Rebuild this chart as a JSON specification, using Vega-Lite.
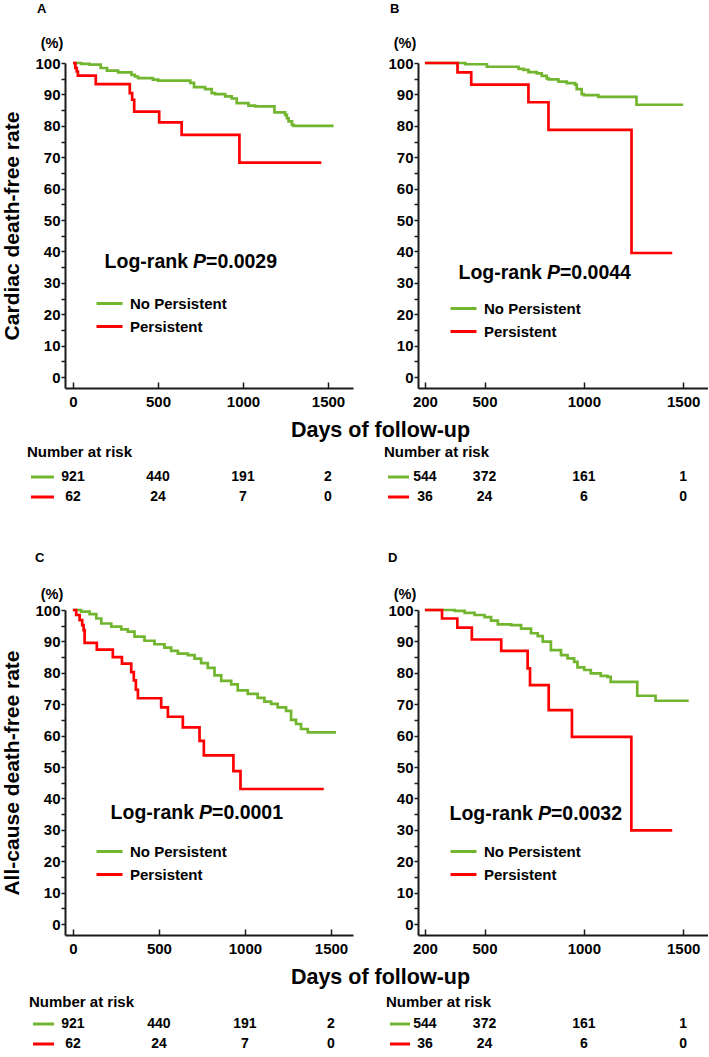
{
  "$schema": "https://vega.github.io/schema/vega-lite/v6.json",
  "padding": {"left": 1, "top": 3, "right": 0, "bottom": 0},
  "autosize": {"type": "pad"},
  "config": {
    "view": {"stroke": null},
    "font": "Liberation Sans",
    "axis": {"grid": false, "domainColor": "#1a1a1a", "domainWidth": 2, "tickColor": "#1a1a1a", "tickWidth": 1.5, "labelFont": "Liberation Sans", "labelFontSize": 15, "labelFontWeight": "bold", "labelColor": "#000", "labelOverlap": false, "labelFlush": false, "titleFont": "Liberation Sans", "titleColor": "#000", "titleFontWeight": "bold"},
    "legend": {"labelFont": "Liberation Sans", "labelFontSize": 15, "labelFontWeight": "bold", "labelColor": "#000", "symbolType": "stroke", "symbolSize": 676, "symbolStrokeWidth": 3, "labelOffset": 6, "padding": 0, "rowPadding": 0},
    "title": {"font": "Liberation Sans", "fontWeight": "bold", "color": "#000"},
    "text": {"font": "Liberation Sans", "fontWeight": "bold", "color": "#000"}
  },
  "datasets": {
    "kmA": [
      {"group": "No Persistent", "day": 0, "surv": 100}, {"group": "No Persistent", "day": 49, "surv": 99.7}, {"group": "No Persistent", "day": 98, "surv": 99.5}, {"group": "No Persistent", "day": 163, "surv": 98.4}, {"group": "No Persistent", "day": 200, "surv": 97.6}, {"group": "No Persistent", "day": 265, "surv": 97.0}, {"group": "No Persistent", "day": 344, "surv": 96.2}, {"group": "No Persistent", "day": 364, "surv": 95.7}, {"group": "No Persistent", "day": 383, "surv": 95.2}, {"group": "No Persistent", "day": 470, "surv": 94.7}, {"group": "No Persistent", "day": 501, "surv": 94.4}, {"group": "No Persistent", "day": 690, "surv": 93.7}, {"group": "No Persistent", "day": 712, "surv": 92.3}, {"group": "No Persistent", "day": 777, "surv": 91.7}, {"group": "No Persistent", "day": 816, "surv": 90.4}, {"group": "No Persistent", "day": 836, "surv": 90.1}, {"group": "No Persistent", "day": 895, "surv": 89.4}, {"group": "No Persistent", "day": 934, "surv": 88.7}, {"group": "No Persistent", "day": 963, "surv": 87.2}, {"group": "No Persistent", "day": 1032, "surv": 86.4}, {"group": "No Persistent", "day": 1071, "surv": 86.2}, {"group": "No Persistent", "day": 1185, "surv": 84.3}, {"group": "No Persistent", "day": 1248, "surv": 83.5}, {"group": "No Persistent", "day": 1258, "surv": 82.4}, {"group": "No Persistent", "day": 1268, "surv": 81.4}, {"group": "No Persistent", "day": 1288, "surv": 80.3}, {"group": "No Persistent", "day": 1298, "surv": 80.0}, {"group": "No Persistent", "day": 1533, "surv": 80.0},
      {"group": "Persistent", "day": 0, "surv": 100}, {"group": "Persistent", "day": 14, "surv": 98.4}, {"group": "Persistent", "day": 22, "surv": 97.3}, {"group": "Persistent", "day": 29, "surv": 96.0}, {"group": "Persistent", "day": 134, "surv": 93.3}, {"group": "Persistent", "day": 334, "surv": 90.4}, {"group": "Persistent", "day": 348, "surv": 88.3}, {"group": "Persistent", "day": 360, "surv": 84.5}, {"group": "Persistent", "day": 507, "surv": 81.1}, {"group": "Persistent", "day": 639, "surv": 77.1}, {"group": "Persistent", "day": 979, "surv": 68.3}, {"group": "Persistent", "day": 1461, "surv": 68.3}
    ],
    "kmB": [
      {"group": "No Persistent", "day": 200, "surv": 100}, {"group": "No Persistent", "day": 403, "surv": 99.6}, {"group": "No Persistent", "day": 512, "surv": 98.8}, {"group": "No Persistent", "day": 671, "surv": 98.1}, {"group": "No Persistent", "day": 696, "surv": 97.8}, {"group": "No Persistent", "day": 721, "surv": 97.1}, {"group": "No Persistent", "day": 763, "surv": 96.7}, {"group": "No Persistent", "day": 788, "surv": 95.9}, {"group": "No Persistent", "day": 813, "surv": 95.1}, {"group": "No Persistent", "day": 822, "surv": 94.8}, {"group": "No Persistent", "day": 872, "surv": 94.1}, {"group": "No Persistent", "day": 914, "surv": 93.6}, {"group": "No Persistent", "day": 956, "surv": 93.1}, {"group": "No Persistent", "day": 964, "surv": 91.7}, {"group": "No Persistent", "day": 989, "surv": 90.1}, {"group": "No Persistent", "day": 1000, "surv": 89.8}, {"group": "No Persistent", "day": 1073, "surv": 89.2}, {"group": "No Persistent", "day": 1265, "surv": 86.7}, {"group": "No Persistent", "day": 1500, "surv": 86.7},
      {"group": "Persistent", "day": 200, "surv": 100}, {"group": "Persistent", "day": 364, "surv": 97.0}, {"group": "Persistent", "day": 433, "surv": 93.1}, {"group": "Persistent", "day": 721, "surv": 87.5}, {"group": "Persistent", "day": 822, "surv": 78.7}, {"group": "Persistent", "day": 1240, "surv": 39.5}, {"group": "Persistent", "day": 1445, "surv": 39.5}
    ],
    "kmC": [
      {"group": "No Persistent", "day": 0, "surv": 100}, {"group": "No Persistent", "day": 48, "surv": 99.5}, {"group": "No Persistent", "day": 97, "surv": 98.7}, {"group": "No Persistent", "day": 136, "surv": 97.3}, {"group": "No Persistent", "day": 165, "surv": 95.7}, {"group": "No Persistent", "day": 223, "surv": 94.7}, {"group": "No Persistent", "day": 281, "surv": 93.8}, {"group": "No Persistent", "day": 319, "surv": 93.1}, {"group": "No Persistent", "day": 358, "surv": 91.5}, {"group": "No Persistent", "day": 416, "surv": 90.2}, {"group": "No Persistent", "day": 474, "surv": 89.1}, {"group": "No Persistent", "day": 532, "surv": 88.0}, {"group": "No Persistent", "day": 571, "surv": 87.0}, {"group": "No Persistent", "day": 610, "surv": 86.1}, {"group": "No Persistent", "day": 668, "surv": 85.6}, {"group": "No Persistent", "day": 707, "surv": 84.5}, {"group": "No Persistent", "day": 745, "surv": 83.1}, {"group": "No Persistent", "day": 784, "surv": 81.6}, {"group": "No Persistent", "day": 823, "surv": 79.2}, {"group": "No Persistent", "day": 862, "surv": 77.4}, {"group": "No Persistent", "day": 920, "surv": 76.3}, {"group": "No Persistent", "day": 958, "surv": 74.4}, {"group": "No Persistent", "day": 1016, "surv": 73.3}, {"group": "No Persistent", "day": 1074, "surv": 72.0}, {"group": "No Persistent", "day": 1113, "surv": 70.8}, {"group": "No Persistent", "day": 1152, "surv": 70.1}, {"group": "No Persistent", "day": 1190, "surv": 69.0}, {"group": "No Persistent", "day": 1239, "surv": 67.9}, {"group": "No Persistent", "day": 1268, "surv": 65.0}, {"group": "No Persistent", "day": 1297, "surv": 63.7}, {"group": "No Persistent", "day": 1326, "surv": 62.1}, {"group": "No Persistent", "day": 1365, "surv": 61.0}, {"group": "No Persistent", "day": 1529, "surv": 61.0},
      {"group": "Persistent", "day": 0, "surv": 100}, {"group": "Persistent", "day": 19, "surv": 98.4}, {"group": "Persistent", "day": 39, "surv": 96.8}, {"group": "Persistent", "day": 54, "surv": 95.2}, {"group": "Persistent", "day": 62, "surv": 93.6}, {"group": "Persistent", "day": 68, "surv": 89.5}, {"group": "Persistent", "day": 139, "surv": 87.4}, {"group": "Persistent", "day": 232, "surv": 85.0}, {"group": "Persistent", "day": 285, "surv": 82.9}, {"group": "Persistent", "day": 339, "surv": 80.2}, {"group": "Persistent", "day": 354, "surv": 77.6}, {"group": "Persistent", "day": 366, "surv": 74.6}, {"group": "Persistent", "day": 378, "surv": 71.9}, {"group": "Persistent", "day": 513, "surv": 69.0}, {"group": "Persistent", "day": 552, "surv": 66.0}, {"group": "Persistent", "day": 639, "surv": 62.6}, {"group": "Persistent", "day": 736, "surv": 58.3}, {"group": "Persistent", "day": 761, "surv": 53.7}, {"group": "Persistent", "day": 933, "surv": 48.7}, {"group": "Persistent", "day": 974, "surv": 43.0}, {"group": "Persistent", "day": 1458, "surv": 43.0}
    ],
    "kmD": [
      {"group": "No Persistent", "day": 200, "surv": 100}, {"group": "No Persistent", "day": 350, "surv": 99.7}, {"group": "No Persistent", "day": 400, "surv": 99.1}, {"group": "No Persistent", "day": 450, "surv": 98.4}, {"group": "No Persistent", "day": 500, "surv": 97.7}, {"group": "No Persistent", "day": 533, "surv": 96.6}, {"group": "No Persistent", "day": 567, "surv": 95.4}, {"group": "No Persistent", "day": 634, "surv": 95.2}, {"group": "No Persistent", "day": 684, "surv": 94.1}, {"group": "No Persistent", "day": 734, "surv": 92.6}, {"group": "No Persistent", "day": 768, "surv": 91.7}, {"group": "No Persistent", "day": 793, "surv": 89.9}, {"group": "No Persistent", "day": 834, "surv": 87.2}, {"group": "No Persistent", "day": 885, "surv": 85.6}, {"group": "No Persistent", "day": 918, "surv": 84.6}, {"group": "No Persistent", "day": 951, "surv": 83.5}, {"group": "No Persistent", "day": 968, "surv": 81.7}, {"group": "No Persistent", "day": 1002, "surv": 80.9}, {"group": "No Persistent", "day": 1035, "surv": 79.8}, {"group": "No Persistent", "day": 1085, "surv": 79.0}, {"group": "No Persistent", "day": 1119, "surv": 78.7}, {"group": "No Persistent", "day": 1135, "surv": 77.1}, {"group": "No Persistent", "day": 1269, "surv": 72.7}, {"group": "No Persistent", "day": 1361, "surv": 71.1}, {"group": "No Persistent", "day": 1528, "surv": 71.1},
      {"group": "Persistent", "day": 200, "surv": 100}, {"group": "Persistent", "day": 286, "surv": 97.3}, {"group": "Persistent", "day": 363, "surv": 94.4}, {"group": "Persistent", "day": 436, "surv": 90.6}, {"group": "Persistent", "day": 584, "surv": 87.0}, {"group": "Persistent", "day": 717, "surv": 81.4}, {"group": "Persistent", "day": 729, "surv": 76.1}, {"group": "Persistent", "day": 823, "surv": 68.1}, {"group": "Persistent", "day": 940, "surv": 59.6}, {"group": "Persistent", "day": 1239, "surv": 29.8}, {"group": "Persistent", "day": 1445, "surv": 29.8}
    ],
    "riskAC": [
      {"group": "No Persistent", "row": 1, "day": 0, "n": 921}, {"group": "No Persistent", "row": 1, "day": 500, "n": 440}, {"group": "No Persistent", "row": 1, "day": 1000, "n": 191}, {"group": "No Persistent", "row": 1, "day": 1500, "n": 2},
      {"group": "Persistent", "row": 2, "day": 0, "n": 62}, {"group": "Persistent", "row": 2, "day": 500, "n": 24}, {"group": "Persistent", "row": 2, "day": 1000, "n": 7}, {"group": "Persistent", "row": 2, "day": 1500, "n": 0}
    ],
    "riskBD": [
      {"group": "No Persistent", "row": 1, "day": 200, "n": 544}, {"group": "No Persistent", "row": 1, "day": 500, "n": 372}, {"group": "No Persistent", "row": 1, "day": 1000, "n": 161}, {"group": "No Persistent", "row": 1, "day": 1500, "n": 1},
      {"group": "Persistent", "row": 2, "day": 200, "n": 36}, {"group": "Persistent", "row": 2, "day": 500, "n": 24}, {"group": "Persistent", "row": 2, "day": 1000, "n": 6}, {"group": "Persistent", "row": 2, "day": 1500, "n": 0}
    ],
    "groups": [{"group": "No Persistent", "row": 1}, {"group": "Persistent", "row": 2}]
  },
  "columns": 2,
  "bounds": "flush",
  "spacing": {"row": 79, "column": 65},
  "resolve": {"scale": {"color": "independent"}, "legend": {"color": "independent"}},
  "concat": [
    {
      "width": 288, "height": 325,
      "title": {"text": "A", "anchor": "start", "frame": "group", "dx": -28, "offset": 7, "fontSize": 13, "baseline": "bottom"},
      "resolve": {"axis": {"y": "independent"}},
      "layer": [
        {"data": {"name": "kmA"}, "mark": {"type": "line", "interpolate": "step-after", "strokeWidth": 2.7},
         "encoding": {
           "x": {"field": "day", "type": "quantitative", "scale": {"domain": [-47, 1647], "nice": false, "zero": false}, "axis": {"values": [0, 500, 1000, 1500], "format": "d", "tickSize": -6, "labelPadding": 12, "title": "Days of follow-up", "titleFontSize": 21.5, "titleX": 315, "titleY": 42, "titleBaseline": "middle", "titleAlign": "center"}},
           "y": {"field": "surv", "type": "quantitative", "scale": {"domain": [-3.5, 100], "nice": false, "zero": false}, "axis": {"orient": "left", "values": [0, 10, 20, 30, 40, 50, 60, 70, 80, 90, 100], "labelOverlap": false, "tickSize": 4, "labelPadding": 1, "title": "Cardiac death-free rate", "titleFontSize": 21, "titlePadding": 12}},
           "color": {"field": "group", "type": "nominal", "scale": {"domain": ["No Persistent", "Persistent"], "range": ["#72B62F", "#FF0000"]}, "legend": {"orient": "none", "legendX": 30, "legendY": 226, "title": null}}
         }},
        {"data": {"values": [{}]}, "mark": {"type": "text", "text": "(%)", "fontSize": 14.5, "align": "center", "baseline": "middle", "dx": -13, "dy": -19}, "encoding": {"x": {"datum": -47}, "y": {"datum": 100, "axis": {"orient": "left", "values": [5, 15, 25, 35, 45, 55, 65, 75, 85, 95], "labels": false, "domain": false, "title": null, "tickSize": 4}}}},
        {"data": {"values": [{}]}, "mark": {"type": "text", "text": "Log-rank", "fontSize": 19.5, "align": "right", "baseline": "middle", "dx": -5}, "encoding": {"x": {"datum": 706}, "y": {"datum": 36.6, "axis": null}}},
        {"data": {"values": [{}]}, "mark": {"type": "text", "text": "P", "fontSize": 19.5, "fontStyle": "italic", "align": "left", "baseline": "middle"}, "encoding": {"x": {"datum": 706}, "y": {"datum": 36.6, "axis": null}}},
        {"data": {"values": [{}]}, "mark": {"type": "text", "text": "=0.0029", "fontSize": 19.5, "align": "left", "baseline": "middle", "dx": 13}, "encoding": {"x": {"datum": 706}, "y": {"datum": 36.6, "axis": null}}}
      ]
    },
    {
      "width": 290, "height": 325,
      "title": {"text": "B", "anchor": "start", "frame": "group", "dx": -28, "offset": 7, "fontSize": 13, "baseline": "bottom"},
      "resolve": {"axis": {"y": "independent"}},
      "layer": [
        {"data": {"name": "kmB"}, "mark": {"type": "line", "interpolate": "step-after", "strokeWidth": 2.7},
         "encoding": {
           "x": {"field": "day", "type": "quantitative", "scale": {"domain": [165, 1625], "nice": false, "zero": false}, "axis": {"values": [200, 500, 1000, 1500], "format": "d", "tickSize": -6, "labelPadding": 12, "title": null}},
           "y": {"field": "surv", "type": "quantitative", "scale": {"domain": [-3.5, 100], "nice": false, "zero": false}, "axis": {"orient": "left", "values": [0, 10, 20, 30, 40, 50, 60, 70, 80, 90, 100], "labelOverlap": false, "tickSize": 4, "labelPadding": 1, "title": null}},
           "color": {"field": "group", "type": "nominal", "scale": {"domain": ["No Persistent", "Persistent"], "range": ["#72B62F", "#FF0000"]}, "legend": {"orient": "none", "legendX": 31, "legendY": 231, "title": null}}
         }},
        {"data": {"values": [{}]}, "mark": {"type": "text", "text": "(%)", "fontSize": 14.5, "align": "center", "baseline": "middle", "dx": -13, "dy": -19}, "encoding": {"x": {"datum": 165}, "y": {"datum": 100, "axis": {"orient": "left", "values": [5, 15, 25, 35, 45, 55, 65, 75, 85, 95], "labels": false, "domain": false, "title": null, "tickSize": 4}}}},
        {"data": {"values": [{}]}, "mark": {"type": "text", "text": "Log-rank", "fontSize": 19.5, "align": "right", "baseline": "middle", "dx": -5}, "encoding": {"x": {"datum": 814}, "y": {"datum": 33.1, "axis": null}}},
        {"data": {"values": [{}]}, "mark": {"type": "text", "text": "P", "fontSize": 19.5, "fontStyle": "italic", "align": "left", "baseline": "middle"}, "encoding": {"x": {"datum": 814}, "y": {"datum": 33.1, "axis": null}}},
        {"data": {"values": [{}]}, "mark": {"type": "text", "text": "=0.0044", "fontSize": 19.5, "align": "left", "baseline": "middle", "dx": 13}, "encoding": {"x": {"datum": 814}, "y": {"datum": 33.1, "axis": null}}}
      ]
    },
    {
      "width": 288, "height": 64,
      "title": {"text": "Number at risk", "anchor": "start", "frame": "group", "dx": -38, "offset": 0, "dy": 8, "fontSize": 15, "baseline": "bottom"},
      "layer": [
        {"data": {"name": "groups"}, "mark": {"type": "rule", "strokeWidth": 3},
         "encoding": {
           "x": {"datum": -247, "type": "quantitative", "scale": {"domain": [-47, 1647], "nice": false, "zero": false}, "axis": null},
           "x2": {"datum": -112},
           "y": {"field": "row", "type": "quantitative", "scale": {"domain": [0.5, 3.7], "reverse": true, "nice": false, "zero": false}, "axis": null},
           "color": {"field": "group", "type": "nominal", "scale": {"domain": ["No Persistent", "Persistent"], "range": ["#72B62F", "#FF0000"]}, "legend": null}
         }},
        {"data": {"name": "riskAC"}, "mark": {"type": "text", "fontSize": 14, "align": "center", "baseline": "middle"},
         "encoding": {"x": {"field": "day", "type": "quantitative"}, "y": {"field": "row", "type": "quantitative"}, "text": {"field": "n", "type": "quantitative"}}}
      ]
    },
    {
      "width": 290, "height": 64,
      "title": {"text": "Number at risk", "anchor": "start", "frame": "group", "dx": -34, "offset": 0, "dy": 8, "fontSize": 15, "baseline": "bottom"},
      "layer": [
        {"data": {"name": "groups"}, "mark": {"type": "rule", "strokeWidth": 3},
         "encoding": {
           "x": {"datum": 14, "type": "quantitative", "scale": {"domain": [165, 1625], "nice": false, "zero": false}, "axis": null},
           "x2": {"datum": 120},
           "y": {"field": "row", "type": "quantitative", "scale": {"domain": [0.5, 3.7], "reverse": true, "nice": false, "zero": false}, "axis": null},
           "color": {"field": "group", "type": "nominal", "scale": {"domain": ["No Persistent", "Persistent"], "range": ["#72B62F", "#FF0000"]}, "legend": null}
         }},
        {"data": {"name": "riskBD"}, "mark": {"type": "text", "fontSize": 14, "align": "center", "baseline": "middle"},
         "encoding": {"x": {"field": "day", "type": "quantitative"}, "y": {"field": "row", "type": "quantitative"}, "text": {"field": "n", "type": "quantitative"}}}
      ]
    },
    {
      "width": 288, "height": 325,
      "title": {"text": "C", "anchor": "start", "frame": "group", "dx": -30, "offset": 9, "fontSize": 13, "baseline": "bottom"},
      "resolve": {"axis": {"y": "independent"}},
      "layer": [
        {"data": {"name": "kmC"}, "mark": {"type": "line", "interpolate": "step-after", "strokeWidth": 2.7},
         "encoding": {
           "x": {"field": "day", "type": "quantitative", "scale": {"domain": [-46, 1628], "nice": false, "zero": false}, "axis": {"values": [0, 500, 1000, 1500], "format": "d", "tickSize": -6, "labelPadding": 12, "title": "Days of follow-up", "titleFontSize": 21.5, "titleX": 315, "titleY": 42, "titleBaseline": "middle", "titleAlign": "center"}},
           "y": {"field": "surv", "type": "quantitative", "scale": {"domain": [-3.5, 100], "nice": false, "zero": false}, "axis": {"orient": "left", "values": [0, 10, 20, 30, 40, 50, 60, 70, 80, 90, 100], "labelOverlap": false, "tickSize": 4, "labelPadding": 1, "title": "All-cause death-free rate", "titleFontSize": 21, "titlePadding": 12}},
           "color": {"field": "group", "type": "nominal", "scale": {"domain": ["No Persistent", "Persistent"], "range": ["#72B62F", "#FF0000"]}, "legend": {"orient": "none", "legendX": 30, "legendY": 227, "title": null}}
         }},
        {"data": {"values": [{}]}, "mark": {"type": "text", "text": "(%)", "fontSize": 14.5, "align": "center", "baseline": "middle", "dx": -13, "dy": -15}, "encoding": {"x": {"datum": -46}, "y": {"datum": 100, "axis": {"orient": "left", "values": [5, 15, 25, 35, 45, 55, 65, 75, 85, 95], "labels": false, "domain": false, "title": null, "tickSize": 4}}}},
        {"data": {"values": [{}]}, "mark": {"type": "text", "text": "Log-rank", "fontSize": 19.5, "align": "right", "baseline": "middle", "dx": -5}, "encoding": {"x": {"datum": 733}, "y": {"datum": 35.3, "axis": null}}},
        {"data": {"values": [{}]}, "mark": {"type": "text", "text": "P", "fontSize": 19.5, "fontStyle": "italic", "align": "left", "baseline": "middle"}, "encoding": {"x": {"datum": 733}, "y": {"datum": 35.3, "axis": null}}},
        {"data": {"values": [{}]}, "mark": {"type": "text", "text": "=0.0001", "fontSize": 19.5, "align": "left", "baseline": "middle", "dx": 13}, "encoding": {"x": {"datum": 733}, "y": {"datum": 35.3, "axis": null}}}
      ]
    },
    {
      "width": 290, "height": 325,
      "title": {"text": "D", "anchor": "start", "frame": "group", "dx": -30, "offset": 9, "fontSize": 13, "baseline": "bottom"},
      "resolve": {"axis": {"y": "independent"}},
      "layer": [
        {"data": {"name": "kmD"}, "mark": {"type": "line", "interpolate": "step-after", "strokeWidth": 2.7},
         "encoding": {
           "x": {"field": "day", "type": "quantitative", "scale": {"domain": [165, 1625], "nice": false, "zero": false}, "axis": {"values": [200, 500, 1000, 1500], "format": "d", "tickSize": -6, "labelPadding": 12, "title": null}},
           "y": {"field": "surv", "type": "quantitative", "scale": {"domain": [-3.5, 100], "nice": false, "zero": false}, "axis": {"orient": "left", "values": [0, 10, 20, 30, 40, 50, 60, 70, 80, 90, 100], "labelOverlap": false, "tickSize": 4, "labelPadding": 1, "title": null}},
           "color": {"field": "group", "type": "nominal", "scale": {"domain": ["No Persistent", "Persistent"], "range": ["#72B62F", "#FF0000"]}, "legend": {"orient": "none", "legendX": 31, "legendY": 227, "title": null}}
         }},
        {"data": {"values": [{}]}, "mark": {"type": "text", "text": "(%)", "fontSize": 14.5, "align": "center", "baseline": "middle", "dx": -13, "dy": -15}, "encoding": {"x": {"datum": 165}, "y": {"datum": 100, "axis": {"orient": "left", "values": [5, 15, 25, 35, 45, 55, 65, 75, 85, 95], "labels": false, "domain": false, "title": null, "tickSize": 4}}}},
        {"data": {"values": [{}]}, "mark": {"type": "text", "text": "Log-rank", "fontSize": 19.5, "align": "right", "baseline": "middle", "dx": -5}, "encoding": {"x": {"datum": 769}, "y": {"datum": 35.0, "axis": null}}},
        {"data": {"values": [{}]}, "mark": {"type": "text", "text": "P", "fontSize": 19.5, "fontStyle": "italic", "align": "left", "baseline": "middle"}, "encoding": {"x": {"datum": 769}, "y": {"datum": 35.0, "axis": null}}},
        {"data": {"values": [{}]}, "mark": {"type": "text", "text": "=0.0032", "fontSize": 19.5, "align": "left", "baseline": "middle", "dx": 13}, "encoding": {"x": {"datum": 769}, "y": {"datum": 35.0, "axis": null}}}
      ]
    },
    {
      "width": 288, "height": 40,
      "title": {"text": "Number at risk", "anchor": "start", "frame": "group", "dx": -36, "offset": 0, "dy": 11, "fontSize": 15, "baseline": "bottom"},
      "layer": [
        {"data": {"name": "groups"}, "mark": {"type": "rule", "strokeWidth": 3},
         "encoding": {
           "x": {"datum": -232, "type": "quantitative", "scale": {"domain": [-46, 1628], "nice": false, "zero": false}, "axis": null},
           "x2": {"datum": -110},
           "y": {"field": "row", "type": "quantitative", "scale": {"domain": [0.5, 2.5], "reverse": true, "nice": false, "zero": false}, "axis": null},
           "color": {"field": "group", "type": "nominal", "scale": {"domain": ["No Persistent", "Persistent"], "range": ["#72B62F", "#FF0000"]}, "legend": null}
         }},
        {"data": {"name": "riskAC"}, "mark": {"type": "text", "fontSize": 14, "align": "center", "baseline": "middle"},
         "encoding": {"x": {"field": "day", "type": "quantitative"}, "y": {"field": "row", "type": "quantitative"}, "text": {"field": "n", "type": "quantitative"}}}
      ]
    },
    {
      "width": 290, "height": 40,
      "title": {"text": "Number at risk", "anchor": "start", "frame": "group", "dx": -32, "offset": 0, "dy": 11, "fontSize": 15, "baseline": "bottom"},
      "layer": [
        {"data": {"name": "groups"}, "mark": {"type": "rule", "strokeWidth": 3},
         "encoding": {
           "x": {"datum": 24, "type": "quantitative", "scale": {"domain": [165, 1625], "nice": false, "zero": false}, "axis": null},
           "x2": {"datum": 125},
           "y": {"field": "row", "type": "quantitative", "scale": {"domain": [0.5, 2.5], "reverse": true, "nice": false, "zero": false}, "axis": null},
           "color": {"field": "group", "type": "nominal", "scale": {"domain": ["No Persistent", "Persistent"], "range": ["#72B62F", "#FF0000"]}, "legend": null}
         }},
        {"data": {"name": "riskBD"}, "mark": {"type": "text", "fontSize": 14, "align": "center", "baseline": "middle"},
         "encoding": {"x": {"field": "day", "type": "quantitative"}, "y": {"field": "row", "type": "quantitative"}, "text": {"field": "n", "type": "quantitative"}}}
      ]
    }
  ]
}
